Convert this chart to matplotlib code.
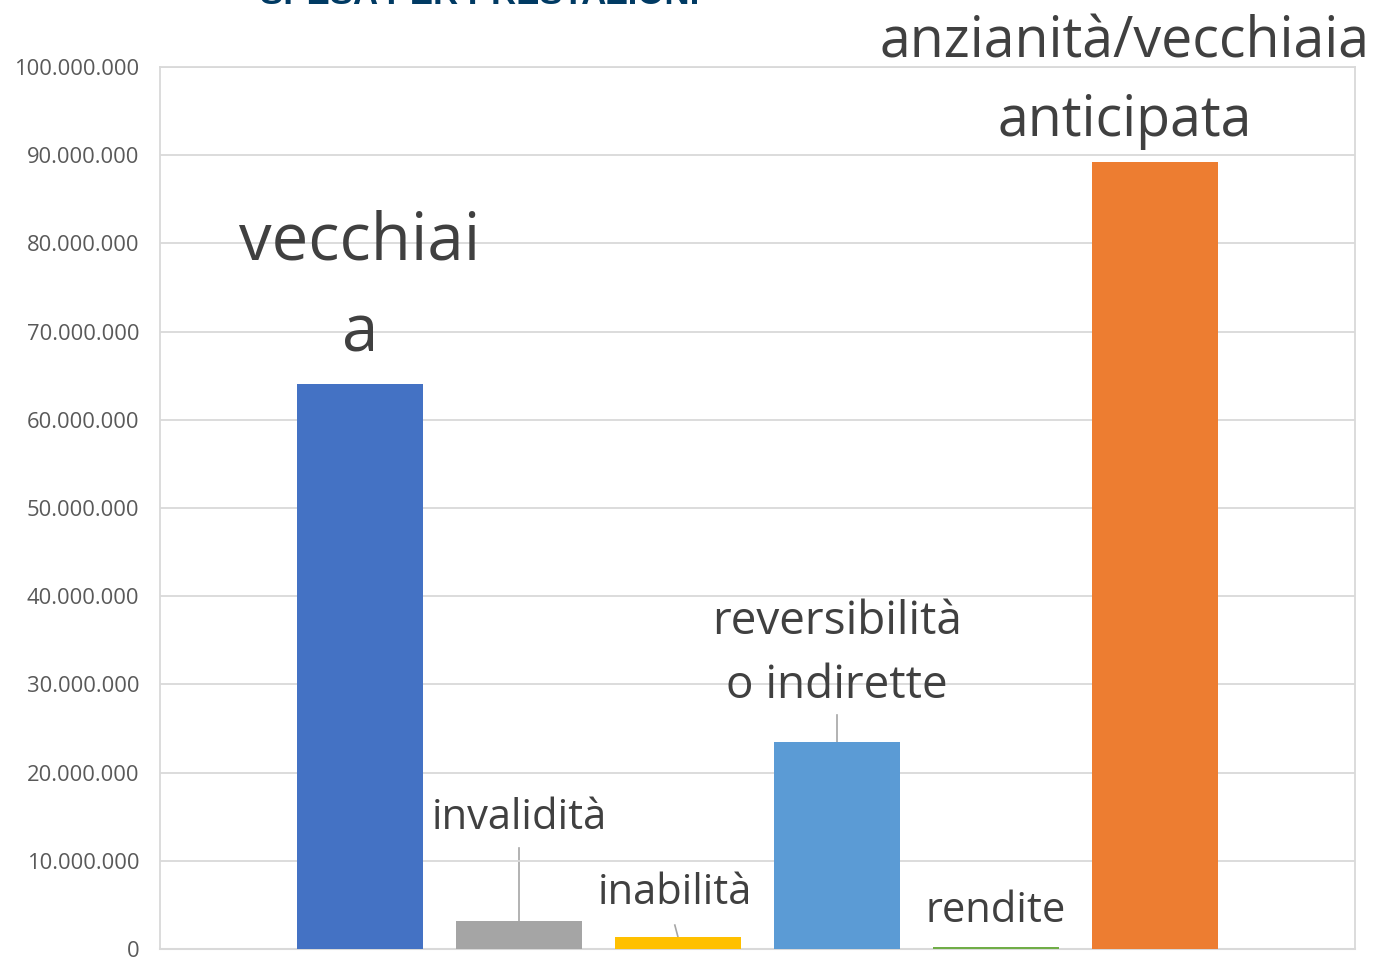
import matplotlib
matplotlib.use("Agg")
import matplotlib.pyplot as plt
from matplotlib.ticker import FuncFormatter

categories = ["vecchiaia", "invalidità", "inabilità", "reversibilità o indirette", "rendite", "anzianità/vecchiaia anticipata"]
values = [64100000, 3200000, 1350000, 23500000, 230000, 89200000]
colors = ["#4472C4", "#A5A5A5", "#FFC000", "#5B9BD5", "#70AD47", "#ED7D31"]
label_texts = ["vecchiai\na", "invalidità", "inabilità", "reversibilità\no indirette", "rendite", "anzianità/vecchiaia\nanticipata"]
yticks = list(range(0, 100000001, 10000000))
title = "SPESA PER PRESTAZIONI"

# label layout: (x offset in bar units, center y in pixels above bar top, fontsize,
#                leader start pixels above bar top or None, leader x offset)
label_layout = [
    (0.0, 95, 47, None, 0),
    (0.0, 103, 30, 73, 0.0),
    (-0.02, 44, 30, 12, -0.02),
    (0.0, 88, 33, 27, 0.0),
    (0.0, 36, 30, None, 0),
    (-0.19, 80, 40, None, 0),
]

plt.rcParams['font.family'] = ['Open Sans', 'DejaVu Sans']
W, H = 1379, 957
fig = plt.figure(figsize=(W / 100, H / 100), dpi=100)
ax = fig.add_axes([160 / W, 1 - 949 / H, (1355 - 160) / W, (949 - 67) / H])

x = list(range(len(categories)))
ax.bar(x, values, width=0.79, color=colors, zorder=3)
ax.set_xlim(-1.258, len(categories) - 1 + 1.258)
ax.set_ylim(0, 100000000)
ax.set_yticks(yticks)
ax.yaxis.set_major_formatter(FuncFormatter(lambda v, p: f"{int(v):,}".replace(",", ".")))
ax.tick_params(axis='y', length=0, labelsize=15.8, labelcolor="#595959", pad=15)
ax.set_xticks([])
ax.grid(axis='y', color="#D9D9D9", linewidth=1.3, zorder=0)
for s in ['left', 'right', 'top']:
    ax.spines[s].set_color("#D9D9D9")
    ax.spines[s].set_linewidth(1.3)
ax.spines['bottom'].set_color("#D9D9D9")
ax.spines['bottom'].set_linewidth(1.5)

# labels
ppd = 882 / 1e8  # pixels per data unit
for i, (txt, val) in enumerate(zip(label_texts, values)):
    dx, dy, fs, lead, ldx = label_layout[i]
    ax.annotate(txt, xy=(i, val), xytext=(i + dx, val + dy / ppd),
                textcoords='data', ha='center', va='center',
                fontsize=fs, color="#404040", linespacing=1.52,
                annotation_clip=False, zorder=4)
    if lead is not None:
        ax.plot([i + ldx, i], [val + lead / ppd, val], color="#A6A6A6", lw=1.2, zorder=1,
                clip_on=False)

fig.text(480 / W, 1 - (-5) / H, title, ha='center', va='center', fontsize=25,
         fontweight='bold', color="#003A63", family='Liberation Sans')

fig.savefig("out.png", dpi=100)
